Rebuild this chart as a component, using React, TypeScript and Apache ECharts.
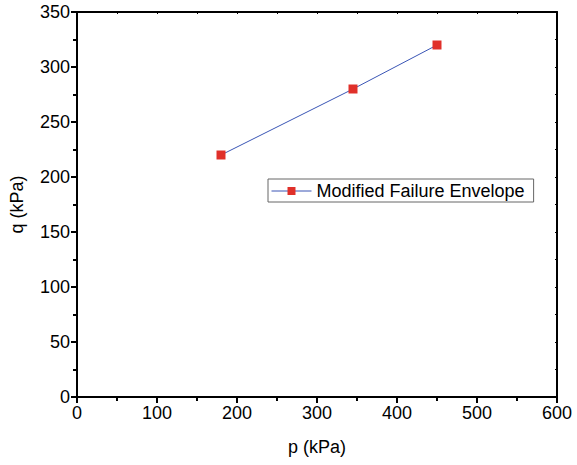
import React, { useEffect, useRef } from "react";
import * as echarts from "echarts";

const seriesName = "Modified Failure Envelope";
const pValues = [180, 345, 450];
const qValues = [220, 280, 320];
const xTitle = "p (kPa)";
const yTitle = "q (kPa)";

export default function App() {
  const ref = useRef<HTMLDivElement>(null);
  useEffect(() => {
    const chart = echarts.init(ref.current!, null, { renderer: "svg" });
    const font = "'Liberation Sans', Arial, sans-serif";
    const axisBase = {
      type: "value" as const,
      axisLine: { show: true, onZero: false, lineStyle: { color: "#000", width: 2 } },
      splitLine: { show: false },
    };
    chart.setOption({
      animation: false,
      backgroundColor: "#fff",
      textStyle: { fontFamily: font },
      grid: { left: 77, right: 20, top: 12, bottom: 68 },
      legend: {
        show: true,
        data: [seriesName],
        left: 268,
        top: 179,
        orient: "horizontal",
        borderColor: "#666",
        borderWidth: 1,
        padding: [3, 9, 2, 3],
        itemWidth: 40,
        itemHeight: 10,
        itemGap: 4,
        itemStyle: { borderWidth: 0 },
        lineStyle: { width: 1 },
        textStyle: { fontSize: 18, color: "#000", fontFamily: font },
      },
      xAxis: [
        {
          ...axisBase,
          position: "bottom",
          min: 0,
          max: 600,
          interval: 100,
          axisTick: { show: true, inside: false, length: 6, lineStyle: { width: 2, color: "#000" } },
          minorTick: { show: true, splitNumber: 2, length: 4, lineStyle: { width: 2, color: "#000" } },
          axisLabel: { fontSize: 18, color: "#000", margin: 7, fontFamily: font },
          name: xTitle,
          nameLocation: "middle",
          nameGap: 41,
          nameTextStyle: { fontSize: 18, color: "#000", fontFamily: font },
        },
        {
          ...axisBase,
          position: "top",
          min: 0,
          max: 600,
          interval: 100,
          axisTick: { show: true, inside: true, length: 2, lineStyle: { width: 1, color: "#000" } },
          minorTick: { show: true, splitNumber: 2, length: 2, lineStyle: { width: 1, color: "#000" } },
          axisLabel: { show: false },
        },
      ],
      yAxis: [
        {
          ...axisBase,
          position: "left",
          min: 0,
          max: 350,
          interval: 50,
          axisTick: { show: true, inside: false, length: 6, lineStyle: { width: 2, color: "#000" } },
          minorTick: { show: true, splitNumber: 2, length: 4, lineStyle: { width: 2, color: "#000" } },
          axisLabel: { fontSize: 18, color: "#000", margin: 7, fontFamily: font },
          name: yTitle,
          nameLocation: "middle",
          nameGap: 51,
          nameRotate: 90,
          nameTextStyle: { fontSize: 18, color: "#000", fontFamily: font },
        },
        {
          ...axisBase,
          position: "right",
          min: 0,
          max: 350,
          interval: 50,
          axisTick: { show: true, inside: true, length: 2, lineStyle: { width: 1, color: "#000" } },
          minorTick: { show: true, splitNumber: 2, length: 2, lineStyle: { width: 1, color: "#000" } },
          axisLabel: { show: false },
        },
      ],
      series: [
        {
          name: seriesName,
          type: "line",
          xAxisIndex: 0,
          yAxisIndex: 0,
          data: pValues.map((p, i) => [p, qValues[i]]),
          symbol: "rect",
          symbolSize: 9,
          lineStyle: { color: "#3a55b5", width: 1 },
          itemStyle: { color: "#e0302a" },
        },
      ],
    });
    return () => chart.dispose();
  }, []);
  return (
    <div
      ref={ref}
      style={{ position: "absolute", left: 0, top: 0, width: 577, height: 465 }}
    />
  );
}
